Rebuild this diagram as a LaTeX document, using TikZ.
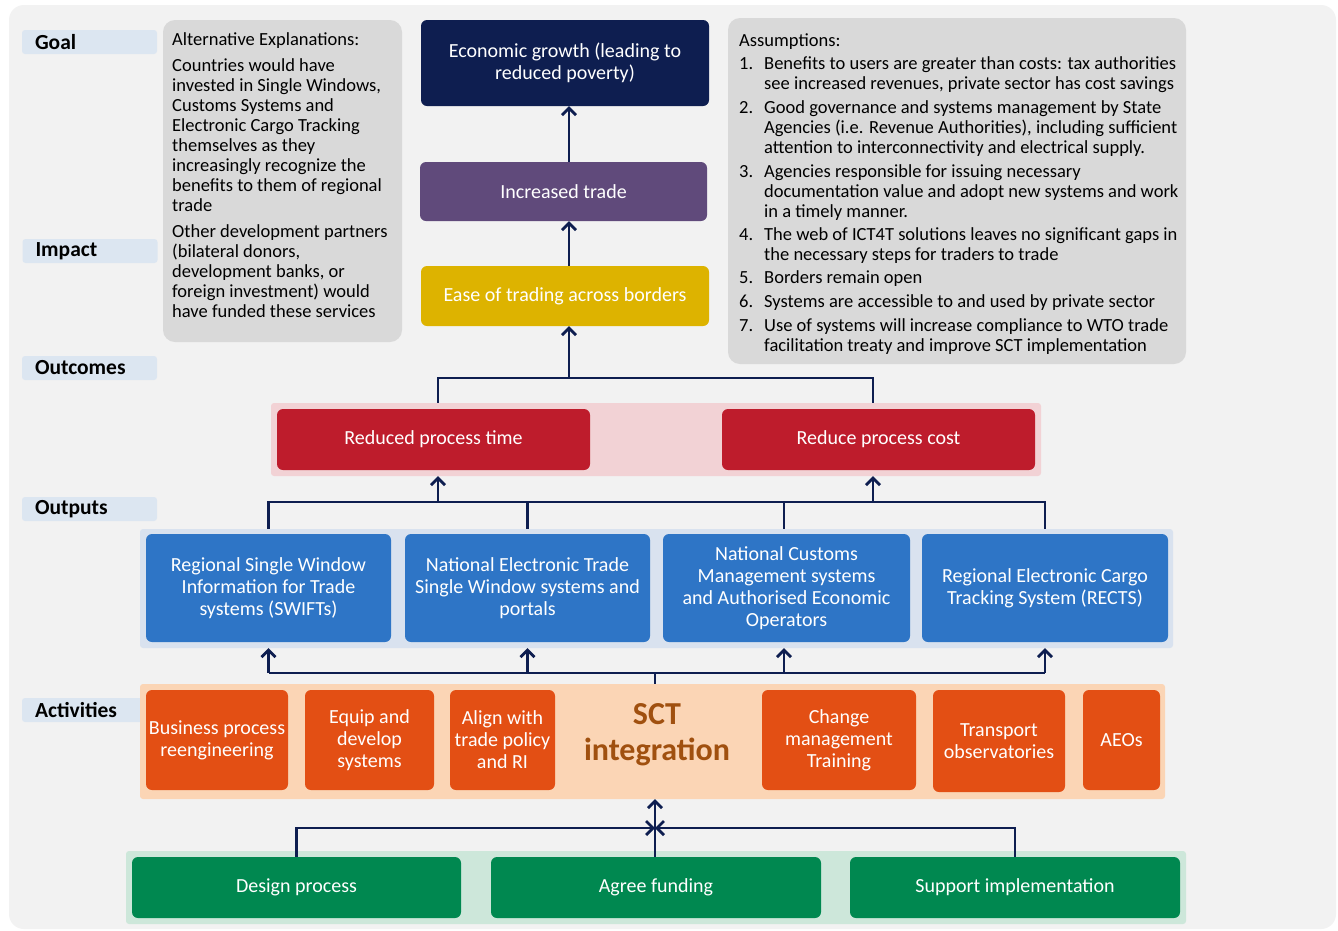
\documentclass[tikz,border=0pt]{standalone}
\usepackage{fontspec}
\setmainfont{Carlito}
\usetikzlibrary{arrows.meta}
\definecolor{bgc}{HTML}{F2F2F2}
\definecolor{labc}{HTML}{DCE6F1}
\definecolor{notec}{HTML}{D9D9D9}
\definecolor{navyc}{HTML}{0E1E50}
\definecolor{purpc}{HTML}{604A7B}
\definecolor{goldc}{HTML}{DDB300}
\definecolor{pinkbgc}{HTML}{F2D2D5}
\definecolor{redc}{HTML}{BE1C2C}
\definecolor{bluebgc}{HTML}{D9E2EF}
\definecolor{bluec}{HTML}{2E75C6}
\definecolor{orbgc}{HTML}{FBD5B5}
\definecolor{orc}{HTML}{E34F14}
\definecolor{sctc}{HTML}{A0500F}
\definecolor{grbgc}{HTML}{CDE7DA}
\definecolor{grc}{HTML}{008850}
\tikzset{
  box/.style={rounded corners=6pt, text=white, align=center, inner sep=0pt, font=\fontsize{20}{22}\selectfont},
  bgpanel/.style={inner sep=0pt, rounded corners=3pt},
  labbox/.style={fill=labc, rounded corners=3pt, minimum width=135pt, minimum height=24pt, inner xsep=13pt, inner ysep=0pt, text width=109pt, align=left, font=\fontsize{21.5}{22}\selectfont\bfseries},
  notebox/.style={fill=notec, rounded corners=12pt, inner sep=0pt},
  notetext/.style={inner sep=0pt, align=left, font=\fontsize{18.5}{20}\selectfont},
  conn/.style={draw=navyc, line width=2.8pt},
  arr/.style={conn, -{Straight Barb[length=7pt,width=14pt]}},
}
\newcommand{\itm}[1]{\makebox[25pt][l]{#1}}
\newcommand{\ind}{\hspace*{25pt}}
\begin{document}
\begin{tikzpicture}[x=1pt,y=-1pt]
\useasboundingbox (0,0) rectangle (1338,930);
\fill[white] (0,0) rectangle (1338,930);
\fill[bgc, rounded corners=15pt] (9,5) rectangle (1336,929);

% level labels
\node[labbox] (lgoal) at (89.5,42) {Goal};
\node[labbox] (limpact) at (90,251) {Impact};
\node[labbox] (loutc) at (89.5,368) {Outcomes};
\node[labbox] (loutp) at (89.5,509) {Outputs};
\node[labbox] (lact) at (89.5,710) {Activities};

% note boxes
\node[notebox, minimum width=239pt, minimum height=322pt] (alt) at (282.5,181) {};
\node[notetext, anchor=north west] (alttext) at (172,32.5) {Alternative Explanations:\\[6pt]
Countries would have\\invested in Single Windows,\\Customs Systems and\\Electronic Cargo Tracking\\themselves as they\\increasingly recognize the\\benefits to them of regional\\trade\\[6pt]
Other development partners\\(bilateral donors,\\development banks, or\\foreign investment) would\\have funded these services};

\node[notebox, minimum width=458pt, minimum height=346pt] (ass) at (957,191) {};
\node[notetext, anchor=north west] (asstext) at (739,34) {Assumptions:\\[3pt]
\itm{1.}Benefits to users are greater than costs: tax authorities\\\ind see increased revenues, private sector has cost savings\\[4pt]
\itm{2.}Good governance and systems management by State\\\ind Agencies (i.e. Revenue Authorities), including sufficient\\\ind attention to interconnectivity and electrical supply.\\[4pt]
\itm{3.}Agencies responsible for issuing necessary\\\ind documentation value and adopt new systems and work\\\ind in a timely manner.\\[3pt]
\itm{4.}The web of ICT4T solutions leaves no significant gaps in\\\ind the necessary steps for traders to trade\\[3pt]
\itm{5.}Borders remain open\\[4pt]
\itm{6.}Systems are accessible to and used by private sector\\[4pt]
\itm{7.}Use of systems will increase compliance to WTO trade\\\ind facilitation treaty and improve SCT implementation};

% goal / impact / outcome chain
\node[box, fill=navyc, minimum width=288pt, minimum height=86pt] (econ) at (565,63) {Economic growth (leading to\\reduced poverty)};
\node[box, fill=purpc, minimum width=287pt, minimum height=59pt] (inc) at (563.5,191.5) {Increased trade};
\node[box, fill=goldc, minimum width=288pt, minimum height=60pt] (ease) at (565,296) {Ease of trading across borders};

% outcomes
\node[bgpanel, fill=pinkbgc, minimum width=770pt, minimum height=73pt] (pink) at (656,439.5) {};
\node[box, fill=redc, minimum width=313pt, minimum height=61pt] (rpt) at (433.5,439.5) {Reduced process time};
\node[box, fill=redc, minimum width=313pt, minimum height=61pt] (rpc) at (878.5,439.5) {Reduce process cost};

% outputs
\node[bgpanel, fill=bluebgc, minimum width=1033pt, minimum height=119pt] (blue) at (656.5,588.5) {};
\node[box, fill=bluec, minimum width=245pt, minimum height=108pt] (s1) at (268.5,588) {Regional Single Window\\Information for Trade\\systems (SWIFTs)};
\node[box, fill=bluec, minimum width=245pt, minimum height=108pt] (s2) at (527.5,588) {National Electronic Trade\\Single Window systems and\\portals};
\node[box, fill=bluec, minimum width=247pt, minimum height=108pt] (s3) at (786.5,588) {National Customs\\Management systems\\and Authorised Economic\\Operators};
\node[box, fill=bluec, minimum width=246pt, minimum height=108pt] (s4) at (1045,588) {Regional Electronic Cargo\\Tracking System (RECTS)};

% activities
\node[bgpanel, fill=orbgc, minimum width=1025pt, minimum height=115pt] (orbg) at (652.5,741.5) {};
\node[box, fill=orc, minimum width=142pt, minimum height=100pt] (a1) at (217,740) {Business process\\reengineering};
\node[box, fill=orc, minimum width=129pt, minimum height=100pt] (a2) at (369.5,740) {Equip and\\develop\\systems};
\node[box, fill=orc, minimum width=105pt, minimum height=100pt] (a3) at (502.5,740) {Align with\\trade policy\\and RI};
\node[inner sep=0pt, align=center, text=sctc, font=\fontsize{32}{36}\selectfont\bfseries] (sct) at (657,735) {SCT\\integration};
\node[box, fill=orc, minimum width=154pt, minimum height=100pt] (a4) at (839,740) {Change\\management\\Training};
\node[box, fill=orc, minimum width=132pt, minimum height=102pt] (a5) at (999,741) {Transport\\observatories};
\node[box, fill=orc, minimum width=77pt, minimum height=100pt] (a6) at (1121.5,740) {AEOs};

% inputs
\node[bgpanel, fill=grbgc, minimum width=1060pt, minimum height=73pt] (green) at (656,887.5) {};
\node[box, fill=grc, minimum width=329pt, minimum height=61pt] (g1) at (296.5,887.5) {Design process};
\node[box, fill=grc, minimum width=330pt, minimum height=61pt] (g2) at (656,887.5) {Agree funding};
\node[box, fill=grc, minimum width=330pt, minimum height=61pt] (g3) at (1015,887.5) {Support implementation};

% connectors: top chain
\coordinate (omid) at (569,378);
\draw[arr] (569,0 |- ease.north) -- (569,0 |- inc.south);
\draw[arr] (569,0 |- inc.north) -- (569,0 |- econ.south);
\draw[conn] (438,0 |- pink.north) |- (873,378) -- (873,0 |- pink.north);
\draw[arr] (omid) -- (569,0 |- ease.south);

% outputs to outcomes
\coordinate (pl) at (438,502);
\coordinate (pr) at (873,502);
\draw[conn] (s1.north |- blue.north) |- (s4.north |- pl) -- (s4.north |- blue.north);
\draw[conn] (s2.north |- blue.north) -- (s2.north |- pl);
\draw[conn] (784,0 |- blue.north) -- (784,502);
\draw[arr] (pl) -- (pl |- pink.south);
\draw[arr] (pr) -- (pr |- pink.south);

% activities to outputs
\coordinate (am) at (655,673);
\draw[conn] (s1.south |- am) -- (s4.south |- am);
\draw[conn] (am |- orbg.north) -- (am);
\draw[arr] (s1.south |- am) -- (s1.south |- blue.south);
\draw[arr] (s2.south |- am) -- (s2.south |- blue.south);
\draw[arr] (784,673) -- (784,0 |- blue.south);
\draw[arr] (s4.south |- am) -- (s4.south |- blue.south);

% inputs to activities
\coordinate (im) at (655,828);
\draw[arr] (g1.north) |- (im);
\draw[arr] (g3.north) |- (im);
\draw[arr] (im |- g2.north) -- (im |- orbg.south);
\end{tikzpicture}
\end{document}
